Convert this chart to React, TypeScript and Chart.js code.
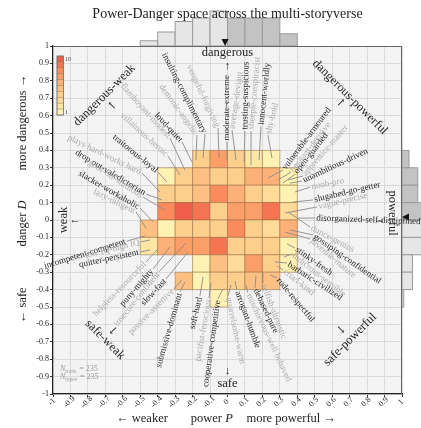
import { useEffect, useRef } from "react";
import { Chart, registerables } from "chart.js";

Chart.register(...registerables);

const TITLE = "Power-Danger space across the multi-storyverse";
const SERIF = '"Liberation Serif", "DejaVu Serif", serif';

// heatmap bins (left / bottom edges), bin width 0.1
const BIN_P = [-0.5, -0.4, -0.3, -0.2, -0.1, 0, 0.1, 0.2, 0.3];
const BIN_D = [0.3, 0.2, 0.1, 0, -0.1, -0.2, -0.3, -0.4, -0.5];
const BIN_W = 0.1;

// counts per row (top row first), one value per BIN_P column, 0 = empty
const rowD03 = [0, 0, 0, 4, 7, 4, 2, 1, 0];
const rowD02 = [0, 1, 4, 5, 4, 4, 6, 6, 1];
const rowD01 = [0, 4, 4, 5, 8, 6, 4, 3, 1];
const rowD00 = [0, 8, 10, 9, 4, 7, 7, 9, 3];
const rowDm01 = [5, 1, 4, 4, 4, 8, 4, 3, 6];
const rowDm02 = [2, 6, 7, 7, 9, 4, 4, 4, 1];
const rowDm03 = [0, 0, 0, 1, 5, 3, 7, 4, 1];
const rowDm04 = [0, 0, 5, 1, 4, 4, 5, 5, 0];
const rowDm05 = [0, 0, 0, 0, 1, 0, 0, 0, 0];
const HEAT_ROWS = [rowD03, rowD02, rowD01, rowD00, rowDm01, rowDm02, rowDm03, rowDm04, rowDm05];

// marginal histograms
const histP = [3, 8, 14, 16, 20, 16, 16, 16, 7];
const histD = [4, 9, 9, 14, 17, 15, 6, 6, 1];
const meanP = -0.014;
const meanD = 0.017;

const N_TRAITS = 235;
const N_TYPES = 235;

// colour levels 1..10
const LEVEL_COLORS = [
  "#fff2b2", "#fee6a4", "#fedb98", "#fdcf8d", "#fdc083",
  "#fdb078", "#fc9e68", "#fb8b5c", "#f57553", "#ee5e4a",
];

// labels: text, dark?, label inner end (P, D), angle (deg), align ('L' starts at end, 'R' ends at end), point (P, D)
type Lab = [string, boolean, number, number, number, "L" | "R", number, number];
const LABELS: Lab[] = [
  ["insulting-complimentary", true, -0.129, 0.494, 63, "R", -0.14, 0.356],
  ["vengeful-forgiving", false, -0.054, 0.528, 65, "R", -0.049, 0.356],
  ["demonic-angelic", false, -0.175, 0.488, 54, "R", -0.181, 0.344],
  ["moderate-extreme", true, -0.003, 0.448, -90, "L", -0.003, 0.344],
  ["average-deviant", false, 0.026, 0.517, -82, "L", 0.049, 0.344],
  ["trusting-suspicious", true, 0.1, 0.511, -89, "L", 0.095, 0.333],
  ["sheeple-conspiracist", false, 0.135, 0.511, -85, "L", 0.135, 0.316],
  ["innocent-worldly", true, 0.192, 0.539, -84, "L", 0.181, 0.344],
  ["shy-bold", false, 0.232, 0.488, -76, "L", 0.255, 0.356],
  ["loud-quiet", true, -0.26, 0.448, 47, "R", -0.203, 0.333],
  ["flamboyant-modest", false, -0.33, 0.471, 48, "R", -0.244, 0.287],
  ["villainous-heroic", false, -0.341, 0.367, 42, "R", -0.272, 0.258],
  ["traitorous-loyal", true, -0.398, 0.275, 39, "R", -0.347, 0.218],
  ["plays hard-works hard", false, -0.49, 0.27, 26, "R", -0.387, 0.161],
  ["drop out-valedictorian", true, -0.467, 0.149, 31, "R", -0.375, 0.115],
  ["goof-off-studious", false, -0.484, 0.132, 33, "R", -0.358, 0.057],
  ["slacker-workaholic", true, -0.501, 0.069, 30, "R", -0.427, -0.011],
  ["lazy-diligent", false, -0.524, 0.046, 26, "R", -0.467, -0.046],
  ["incompetent-competent", true, -0.576, -0.121, -17, "R", -0.473, -0.092],
  ["low IQ-high IQ", false, -0.496, -0.126, -14, "R", -0.444, -0.115],
  ["quitter-persistent", true, -0.501, -0.184, -12, "R", -0.444, -0.172],
  ["helpless-resourceful", false, -0.467, -0.241, -46, "R", -0.398, -0.166],
  ["puny-mighty", true, -0.427, -0.281, -49, "R", -0.33, -0.155],
  ["insecure-confident", false, -0.393, -0.298, -51, "R", -0.238, -0.132],
  ["slow-fast", true, -0.352, -0.339, -47, "R", -0.226, -0.184],
  ["passive-assertive", false, -0.307, -0.396, -45, "R", -0.261, -0.344],
  ["submissive-dominant", true, -0.272, -0.413, -74, "R", -0.244, -0.356],
  ["soft-hard", true, -0.158, -0.436, -77, "R", -0.14, -0.327],
  ["pacifist-ferocious", false, -0.106, -0.448, -80, "R", -0.095, -0.362],
  ["cooperative-competitive", true, -0.054, -0.453, -82, "R", -0.026, -0.396],
  ["quarrelsome-warm", false, 0.003, -0.436, 78, "L", 0.02, -0.373],
  ["arrogant-humble", true, 0.054, -0.402, 70, "L", 0.043, -0.35],
  ["mischievous-well behaved", false, 0.117, -0.419, 65, "L", 0.106, -0.373],
  ["debased-pure", true, 0.158, -0.39, 65, "L", 0.163, -0.321],
  ["selfish-altruistic", false, 0.203, -0.362, 69, "L", 0.203, -0.298],
  ["rude-respectful", true, 0.284, -0.333, 50, "L", 0.244, -0.316],
  ["cruel-kind", false, 0.318, -0.287, 38, "L", 0.284, -0.264],
  ["barbaric-civilized", true, 0.341, -0.247, 33, "L", 0.272, -0.241],
  ["ludicrous-sensible", false, 0.37, -0.195, 38, "L", 0.324, -0.212],
  ["stinky-fresh", true, 0.387, -0.161, 35, "L", 0.341, -0.138],
  ["juvenile-mature", false, 0.473, -0.109, 40, "L", 0.33, -0.069],
  ["gossiping-confidential", true, 0.49, -0.086, 35, "L", 0.358, -0.057],
  ["dunce-genius", false, 0.473, -0.04, 28, "L", 0.347, 0.046],
  ["disorganized-self-disciplined", true, 0.501, 0.011, 2, "L", 0.404, 0.011],
  ["vague-precise", false, 0.513, 0.075, -13, "L", 0.33, 0.04],
  ["slugabed-go-getter", true, 0.49, 0.115, -13, "L", 0.375, 0.103],
  ["noob-pro", false, 0.473, 0.189, -11, "L", 0.387, 0.161],
  ["unambitious-driven", true, 0.427, 0.224, -25, "L", 0.358, 0.212],
  ["apprentice-master", false, 0.433, 0.253, -49, "L", 0.347, 0.23],
  ["open-guarded", true, 0.387, 0.264, -52, "L", 0.318, 0.212],
  ["hesitant-decisive", false, 0.364, 0.275, -52, "L", 0.289, 0.23],
  ["vulnerable-armoured", true, 0.318, 0.287, -53, "L", 0.232, 0.241],
];

const fmt = (v: number | string) => {
  const r = Math.round(Number(v) * 10) / 10;
  return r === 0 ? "0" : String(r);
};

function richText(
  ctx: CanvasRenderingContext2D,
  parts: [string, boolean][],
  x: number,
  y: number,
  size: number
) {
  let total = 0;
  for (const [t, it] of parts) {
    ctx.font = `${it ? "italic " : ""}${size}px ${SERIF}`;
    total += ctx.measureText(t).width;
  }
  let cx = x - total / 2;
  ctx.textAlign = "left";
  for (const [t, it] of parts) {
    ctx.font = `${it ? "italic " : ""}${size}px ${SERIF}`;
    ctx.fillText(t, cx, y);
    cx += ctx.measureText(t).width;
  }
}

function rotText(ctx: CanvasRenderingContext2D, t: string, x: number, y: number, deg: number, size: number, color: string) {
  ctx.save();
  ctx.translate(x, y);
  ctx.rotate((deg * Math.PI) / 180);
  ctx.font = `${size}px ${SERIF}`;
  ctx.fillStyle = color;
  ctx.textAlign = "center";
  ctx.textBaseline = "middle";
  ctx.fillText(t, 0, 0);
  ctx.restore();
}

const bgPlugin = {
  id: "bg",
  beforeDraw(chart: any) {
    const { ctx, chartArea: a } = chart;
    ctx.save();
    ctx.fillStyle = "#ffffff";
    ctx.fillRect(0, 0, chart.width, chart.height);
    ctx.fillStyle = "#f3f3f3";
    ctx.fillRect(a.left, a.top, a.right - a.left, a.bottom - a.top);
    ctx.restore();
  },
};

const overlayPlugin = {
  id: "overlay",
  afterDraw(chart: any) {
    const { ctx, chartArea: a } = chart;
    const xs = chart.scales.x;
    const ys = chart.scales.y;
    const X = (v: number) => xs.getPixelForValue(v);
    const Y = (v: number) => ys.getPixelForValue(v);
    ctx.save();

    // x tick labels (rotated, centred under tick)
    ctx.fillStyle = "#222";
    ctx.font = `8px ${SERIF}`;
    for (const t of xs.ticks) {
      ctx.save();
      ctx.translate(X(t.value) - 1, a.bottom + 8);
      ctx.rotate(-Math.PI / 4);
      ctx.textAlign = "center";
      ctx.textBaseline = "middle";
      ctx.fillText(fmt(t.value), 0, 0);
      ctx.restore();
    }

    // heatmap cells
    HEAT_ROWS.forEach((row, j) => {
      row.forEach((c, i) => {
        if (!c) return;
        const x0 = X(BIN_P[i]);
        const x1 = X(BIN_P[i] + BIN_W);
        const y0 = Y(BIN_D[j] + BIN_W);
        const y1 = Y(BIN_D[j]);
        ctx.fillStyle = LEVEL_COLORS[c - 1];
        ctx.fillRect(x0, y0, x1 - x0, y1 - y0);
        ctx.strokeStyle = "rgba(150,105,60,0.5)";
        ctx.lineWidth = 1;
        ctx.strokeRect(x0, y0, x1 - x0, y1 - y0);
      });
    });

    // marginal histograms
    const k = 1.75;
    ctx.lineWidth = 1;
    histP.forEach((c, i) => {
      const x0 = X(BIN_P[i]);
      const x1 = X(BIN_P[i] + BIN_W);
      const h = c * k;
      ctx.fillStyle = BIN_P[i] >= 0 ? "#c3c3c3" : "#e6e6e6";
      ctx.fillRect(x0, a.top - h, x1 - x0, h);
      ctx.strokeStyle = "#9a9a9a";
      ctx.strokeRect(x0, a.top - h, x1 - x0, h);
    });
    histD.forEach((c, j) => {
      const y0 = Y(BIN_D[j] + BIN_W);
      const y1 = Y(BIN_D[j]);
      const w = c * k;
      ctx.fillStyle = BIN_D[j] >= 0 ? "#c3c3c3" : "#e6e6e6";
      ctx.fillRect(a.right, y0, w, y1 - y0);
      ctx.strokeStyle = "#9a9a9a";
      ctx.strokeRect(a.right, y0, w, y1 - y0);
    });
    ctx.strokeStyle = "#666";
    ctx.beginPath();
    ctx.moveTo(a.left, a.top + 0.5);
    ctx.lineTo(a.right, a.top + 0.5);
    ctx.moveTo(a.right - 0.5, a.top);
    ctx.lineTo(a.right - 0.5, a.bottom);
    ctx.stroke();
    // mean markers
    ctx.fillStyle = "#111";
    const mx = X(meanP);
    ctx.beginPath();
    ctx.moveTo(mx - 3.5, a.top - 7);
    ctx.lineTo(mx + 3.5, a.top - 7);
    ctx.lineTo(mx, a.top);
    ctx.closePath();
    ctx.fill();
    const my = Y(meanD);
    ctx.beginPath();
    ctx.moveTo(a.right, my);
    ctx.lineTo(a.right + 7, my - 3.5);
    ctx.lineTo(a.right + 7, my + 3.5);
    ctx.closePath();
    ctx.fill();

    // colorbar
    const cbx = a.left + 4, cby = a.top + 10, cbw = 6.5, cbh = 59;
    for (let q = 0; q < 10; q++) {
      const h = cbh / 10;
      ctx.fillStyle = LEVEL_COLORS[9 - q];
      ctx.fillRect(cbx, cby + q * h, cbw, h);
      ctx.strokeStyle = "rgba(150,105,60,0.6)";
      ctx.lineWidth = 0.6;
      ctx.strokeRect(cbx, cby + q * h, cbw, h);
    }
    ctx.strokeStyle = "#777";
    ctx.lineWidth = 0.8;
    ctx.strokeRect(cbx, cby, cbw, cbh);
    ctx.fillStyle = "#444";
    ctx.font = `6px ${SERIF}`;
    ctx.textAlign = "left";
    ctx.textBaseline = "middle";
    ctx.fillText("10", cbx + cbw + 1.5, cby + 3);
    ctx.fillText("1", cbx + cbw + 1.5, cby + cbh - 3);

    // leader lines
    ctx.strokeStyle = "#8a8a8a";
    ctx.lineWidth = 0.9;
    for (const [, , ax, ay, , , tx, ty] of LABELS) {
      ctx.beginPath();
      ctx.moveTo(X(ax), Y(ay));
      ctx.lineTo(X(tx), Y(ty));
      ctx.stroke();
    }
    // labels
    for (const [t, dark, ax, ay, ang, al] of LABELS) {
      ctx.save();
      ctx.translate(X(ax), Y(ay));
      ctx.rotate((ang * Math.PI) / 180);
      ctx.font = `9px ${SERIF}`;
      ctx.fillStyle = dark ? "#262626" : "#ababab";
      ctx.textBaseline = "middle";
      ctx.textAlign = al === "L" ? "left" : "right";
      ctx.fillText(t, al === "L" ? 1.5 : -1.5, 0);
      ctx.restore();
    }

    // direction labels
    const dk = "#1e1e1e";
    rotText(ctx, "dangerous", X(0), a.top + 7, 0, 12.5, dk);
    rotText(ctx, "\u2191", X(0), a.top + 20, 0, 11, dk);
    rotText(ctx, "safe", X(0), a.bottom - 10, 0, 12.5, dk);
    rotText(ctx, "\u2193", X(0), a.bottom - 23, 0, 11, dk);
    rotText(ctx, "weak", a.left + 11, Y(0), -90, 12.5, dk);
    rotText(ctx, "\u2190", a.left + 22, Y(0), 0, 11, dk);
    rotText(ctx, "powerful", a.right - 10, Y(0.04), 90, 12.5, dk);
    rotText(ctx, "\u2192", a.right - 22, Y(0), 0, 11, dk);
    rotText(ctx, "dangerous-weak", X(-0.705), Y(0.717), -45, 12.5, dk);
    rotText(ctx, "\u2196", X(-0.662), Y(0.654), 0, 11, dk);
    rotText(ctx, "dangerous-powerful", X(0.702), Y(0.706), 45, 12.5, dk);
    rotText(ctx, "\u2197", X(0.65), Y(0.671), 0, 11, dk);
    rotText(ctx, "safe-weak", X(-0.702), Y(-0.688), 45, 12.5, dk);
    rotText(ctx, "\u2199", X(-0.656), Y(-0.64), 0, 11, dk);
    rotText(ctx, "safe-powerful", X(0.702), Y(-0.688), -45, 12.5, dk);
    rotText(ctx, "\u2198", X(0.65), Y(-0.63), 0, 11, dk);

    // N text
    ctx.fillStyle = "#9a9a9a";
    ctx.textBaseline = "alphabetic";
    const nLine = (sub: string, val: number, y: number) => {
      let x = a.left + 7;
      ctx.textAlign = "left";
      ctx.font = `italic 8px ${SERIF}`;
      ctx.fillText("N", x, y);
      x += ctx.measureText("N").width;
      ctx.font = `5.5px ${SERIF}`;
      ctx.fillText(sub, x, y + 2);
      x += ctx.measureText(sub).width + 1;
      ctx.font = `8px ${SERIF}`;
      ctx.fillText(` = ${val}`, x, y);
    };
    nLine("traits", N_TRAITS, Y(-0.865));
    nLine("types", N_TYPES, Y(-0.915));

    // title
    ctx.fillStyle = "#1e1e1e";
    ctx.font = `14px ${SERIF}`;
    ctx.textAlign = "center";
    ctx.textBaseline = "middle";
    ctx.fillText(TITLE, X(0), 14);

    // axis titles
    ctx.textBaseline = "alphabetic";
    richText(ctx, [["\u2190 weaker", false]], X(-0.49), 422, 12.5);
    richText(ctx, [["power ", false], ["P", true]], X(-0.09), 422, 12.5);
    richText(ctx, [["more powerful \u2192", false]], X(0.365), 422, 12.5);
    ctx.save();
    ctx.translate(26, 0);
    ctx.rotate(-Math.PI / 2);
    richText(ctx, [["\u2190 safe", false]], -Y(-0.49), 0, 12.5);
    richText(ctx, [["danger ", false], ["D", true]], -Y(-0.02), 0, 12.5);
    richText(ctx, [["more dangerous \u2192", false]], -Y(0.56), 0, 12.5);
    ctx.restore();

    ctx.restore();
  },
};

export default function App() {
  const ref = useRef<HTMLCanvasElement>(null);
  useEffect(() => {
    document.body.style.margin = "0";
    const canvas = ref.current!;
    const tickFont = { family: SERIF, size: 8 };
    const chart = new Chart(canvas, {
      type: "scatter",
      data: { datasets: [{ data: [], pointRadius: 0 }] },
      options: {
        responsive: false,
        animation: false,
        devicePixelRatio: 1,
        layout: { padding: { top: 46, right: 19, left: 0, bottom: 0 } },
        plugins: { legend: { display: false }, tooltip: { enabled: false } },
        scales: {
          x: {
            type: "linear",
            min: -1,
            max: 1,
            afterFit: (s: any) => {
              s.height = 34;
            },
            ticks: {
              stepSize: 0.1,
              autoSkip: false,
              maxRotation: 0,
              minRotation: 0,
              padding: 1,
              color: "rgba(0,0,0,0)",
              font: tickFont,
              callback: (v: any) => fmt(v),
            },
            grid: { color: "#dadada", tickColor: "#333", tickLength: 3, lineWidth: 1 },
            border: { display: true, color: "#222", width: 1.2 },
          },
          y: {
            type: "linear",
            min: -1,
            max: 1,
            afterFit: (s: any) => {
              s.width = 53;
            },
            ticks: {
              stepSize: 0.1,
              autoSkip: false,
              padding: 1,
              color: "#222",
              font: tickFont,
              callback: (v: any) => fmt(v),
            },
            grid: { color: "#dadada", tickColor: "#333", tickLength: 3, lineWidth: 1 },
            border: { display: true, color: "#222", width: 1.2 },
          },
        },
      } as any,
      plugins: [bgPlugin, overlayPlugin],
    });
    return () => chart.destroy();
  }, []);
  return (
    <div style={{ position: "absolute", left: 0, top: 0, width: 421, height: 428 }}>
      <canvas ref={ref} width={421} height={428} style={{ display: "block" }} />
    </div>
  );
}
